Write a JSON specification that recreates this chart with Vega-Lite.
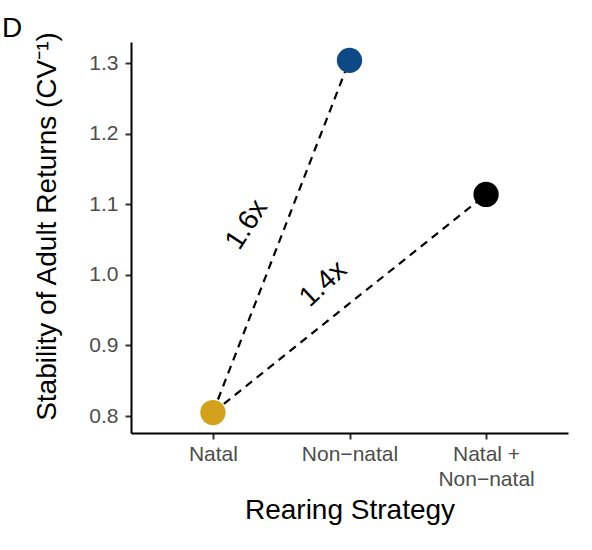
{
  "$schema": "https://vega.github.io/schema/vega-lite/v6.json",
  "width": 437,
  "height": 391,
  "autosize": "none",
  "padding": {"left": 131, "top": 42, "right": 24, "bottom": 117},
  "background": "white",
  "config": {
    "view": {"stroke": null},
    "font": "Liberation Sans",
    "axis": {
      "grid": false,
      "domainColor": "black",
      "domainWidth": 2,
      "tickColor": "#333333",
      "tickWidth": 2,
      "tickSize": 6,
      "labelColor": "#4d4d4d",
      "labelFontSize": 21,
      "labelFont": "Liberation Sans",
      "titleFont": "Liberation Sans",
      "titleFontSize": 27,
      "titleFontWeight": "normal",
      "titleColor": "black"
    }
  },
  "title": {
    "text": "D",
    "anchor": "start",
    "frame": "group",
    "dx": -129,
    "dy": 14,
    "offset": 2,
    "fontSize": 28,
    "fontWeight": "normal",
    "font": "Liberation Sans",
    "color": "black"
  },
  "datasets": {
    "points": [
      {"strategy": "Natal", "pos": 1, "cv": 0.805, "col": "gold"},
      {"strategy": "Non-natal", "pos": 2, "cv": 1.304, "col": "blue"},
      {"strategy": "Natal + Non-natal", "pos": 3, "cv": 1.114, "col": "black"}
    ],
    "links": [
      {"from": 1, "to": 2, "y0": 0.805, "y1": 1.304},
      {"from": 1, "to": 3, "y0": 0.805, "y1": 1.114}
    ],
    "ratios": [
      {"label": "1.6x", "pos": 1.25, "cv": 1.071, "angle": -57},
      {"label": "1.4x", "pos": 1.81, "cv": 0.987, "angle": -43}
    ]
  },
  "layer": [
    {
      "data": {"name": "links"},
      "mark": {"type": "rule", "color": "black", "strokeWidth": 2.2, "strokeDash": [8, 6]},
      "encoding": {
        "x": {
          "field": "from",
          "type": "quantitative",
          "scale": {"domain": [0.4, 3.6], "nice": false, "zero": false},
          "axis": {
            "values": [1, 2, 3],
            "title": "Rearing Strategy",
            "titleFontSize": 28,
            "titlePadding": 7,
            "labelPadding": 4,
            "labelLineHeight": 25,
            "labelExpr": "datum.value == 1 ? 'Natal' : datum.value == 2 ? 'Non−natal' : ['Natal +', 'Non−natal']"
          }
        },
        "x2": {"field": "to"},
        "y": {
          "field": "y0",
          "type": "quantitative",
          "scale": {"domain": [0.776, 1.33], "nice": false, "zero": false},
          "axis": {
            "values": [0.8, 0.9, 1.0, 1.1, 1.2, 1.3],
            "format": ".1f",
            "title": "Stability of Adult Returns (CV⁻¹)",
            "titleFontSize": 28,
            "titleY": 184,
            "titlePadding": 27,
            "labelPadding": 7
          }
        },
        "y2": {"field": "y1"}
      }
    },
    {
      "data": {"name": "points"},
      "mark": {"type": "circle", "size": 640, "opacity": 1},
      "encoding": {
        "x": {"field": "pos", "type": "quantitative"},
        "y": {"field": "cv", "type": "quantitative"},
        "color": {
          "field": "col",
          "type": "nominal",
          "scale": {"domain": ["gold", "blue", "black"], "range": ["#d4a11c", "#0d4a85", "#000000"]},
          "legend": null
        }
      }
    },
    {
      "data": {"name": "ratios"},
      "mark": {"type": "text", "fontSize": 28, "font": "Liberation Sans", "color": "black"},
      "encoding": {
        "x": {"field": "pos", "type": "quantitative"},
        "y": {"field": "cv", "type": "quantitative"},
        "text": {"field": "label"},
        "angle": {"field": "angle", "type": "quantitative", "scale": null}
      }
    }
  ]
}
